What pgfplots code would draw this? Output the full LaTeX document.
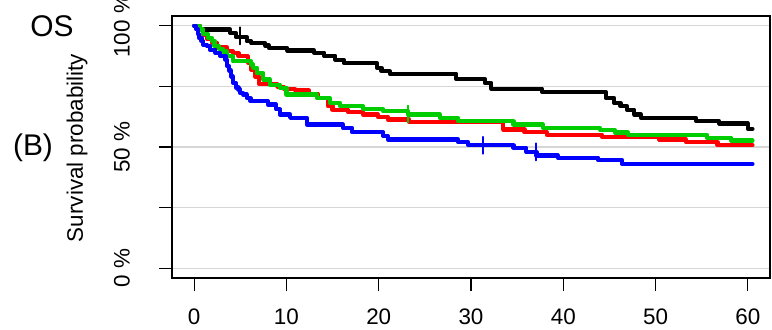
\documentclass[border=0pt]{standalone}
\usepackage{fontspec}
\setmainfont{Liberation Sans}
\usepackage{pgfplots}
\pgfplotsset{compat=1.18}
\definecolor{kmgreen}{RGB}{0,205,0}
\definecolor{kmred}{RGB}{255,0,0}
\definecolor{kmblue}{RGB}{0,0,255}
\begin{document}
\begin{tikzpicture}
\begin{axis}[
  scale only axis, width=598bp, height=262bp,
  xmin=-2.4, xmax=62.4, ymin=-4, ymax=104,
  xtick={0,10,20,30,40,50,60}, xticklabels={0,10,20,30,40,50,60},
  ytick={0,25,50,75,100}, yticklabels={0 \%,,50 \%,,100 \%},
  tick align=outside, major tick length=13bp, tick pos=left,
  every tick/.style={black, line width=1.1bp},
  ymajorgrids, grid style={black!16, line width=1.2bp},
  axis line style={line width=1.2bp},
  xticklabel style={font=\fontsize{22.5}{26}\selectfont, anchor=north, inner sep=0pt, yshift=-18bp},
  yticklabel style={font=\fontsize{22.5}{26}\selectfont, xshift=-29bp, rotate=90, anchor=south, inner sep=0pt},
  every axis plot/.append style={line width=4.2bp, line cap=round, line join=round},
]
% black
\addplot[black, const plot] coordinates {
(0,100) (0.6,98.4) (3.9,97.0) (4.5,95.3) (5.7,93.6) (6.2,92.9) (7.7,91.8) (8.1,90.8)
(10.1,89.8) (13.0,88.9) (14.1,87.6) (15.3,86.0) (16.2,84.6) (19.8,82.6) (20.3,81.2)
(21.2,80.2) (28.4,78.1) (31.5,76.4) (32.2,74.0) (37.7,72.7) (44.6,70.2) (45.5,68.2)
(46.2,66.8) (46.9,65.4) (47.7,63.4) (48.4,62.0) (54.4,60.6) (56.9,59.7) (60.0,57.5) (60.5,57.5)};
% red
\addplot[kmred, const plot] coordinates {
(0,100) (0.6,98.2) (1.0,96.3) (1.4,94.5) (1.9,93.0) (2.5,91.0) (3.6,89.5) (4.2,88.9)
(4.8,87.4) (5.8,84.8) (6.2,81.9) (6.6,79.1) (7.0,76.1) (9.0,74.8) (9.7,74.0) (10.9,73.4)
(12.4,72.0) (13.4,70.2) (14.5,66.8) (15.0,65.4) (16.7,64.3) (18.3,63.4) (19.9,62.4)
(21.0,61.3) (23.3,60.3) (33.5,57.2) (35.8,56.1) (38.2,55.1) (44.2,54.2) (50.4,53.1)
(53.3,52.0) (56.7,50.7) (60.5,50.7)};
% green
\addplot[kmgreen, const plot] coordinates {
(0,100) (0.6,98.4) (1.0,96.5) (1.5,95.0) (1.9,93.8) (2.2,91.5) (2.7,90.5) (3.1,89.4)
(3.5,87.4) (4.2,85.3) (6.2,84.0) (6.4,82.7) (6.8,80.5) (7.5,77.8) (8.2,75.7) (9.3,74.4)
(10.0,71.6) (13.3,70.2) (14.7,68.2) (15.8,66.8) (18.3,65.7) (20.5,64.7) (23.2,63.4)
(26.6,62.0) (28.6,60.6) (34.6,59.3) (37.8,57.9) (44.0,57.0) (45.6,56.0) (47.0,55.0)
(55.6,53.8) (58.2,52.7) (60.5,52.7)};
% blue
\addplot[kmblue, const plot] coordinates {
(0,100) (0.2,98.5) (0.4,96.5) (0.5,95.0) (0.8,93.6) (1.0,92.2) (1.4,91.5) (1.7,90.1)
(2.3,88.9) (2.8,87.6) (3.4,86.0) (3.6,83.3) (3.8,81.5) (4.0,79.1) (4.2,76.5) (4.5,74.5)
(4.8,73.7) (5.0,72.3) (5.3,71.6) (5.7,70.2) (6.1,68.9) (8.0,67.5) (8.9,65.5) (9.3,63.4)
(10.4,62.0) (12.2,59.3) (16.1,57.9) (17.1,56.1) (20.5,54.5) (21.0,53.1) (28.6,52.0)
(29.7,50.7) (34.6,49.7) (36.0,48.0) (37.1,46.5) (39.4,45.6) (43.8,44.5) (46.4,43.0)
(60.5,43.0)};
% censor marks
\addplot[black, only marks, mark=|, mark size=8.5bp, mark options={line width=1.8bp}] coordinates {(5.0,95.8)};
\addplot[kmgreen, only marks, mark=|, mark size=8.5bp, mark options={line width=1.8bp}] coordinates {(23.2,63.6)};
\addplot[kmblue, only marks, mark=|, mark size=8.5bp, mark options={line width=1.8bp}] coordinates {(31.3,50.7) (37.0,48.0)};
\end{axis}
\node[font=\fontsize{30}{34}\selectfont] at (-120bp,252bp) {OS};
\node[font=\fontsize{30}{34}\selectfont] at (-139bp,130bp) {(B)};
\node[rotate=90, font=\fontsize{22.5}{26}\selectfont] at (-95bp,130bp) {Survival probability};
\pgfresetboundingbox
\path[use as bounding box] (-172bp,-52bp) rectangle (600bp,278bp);
\end{tikzpicture}
\end{document}
